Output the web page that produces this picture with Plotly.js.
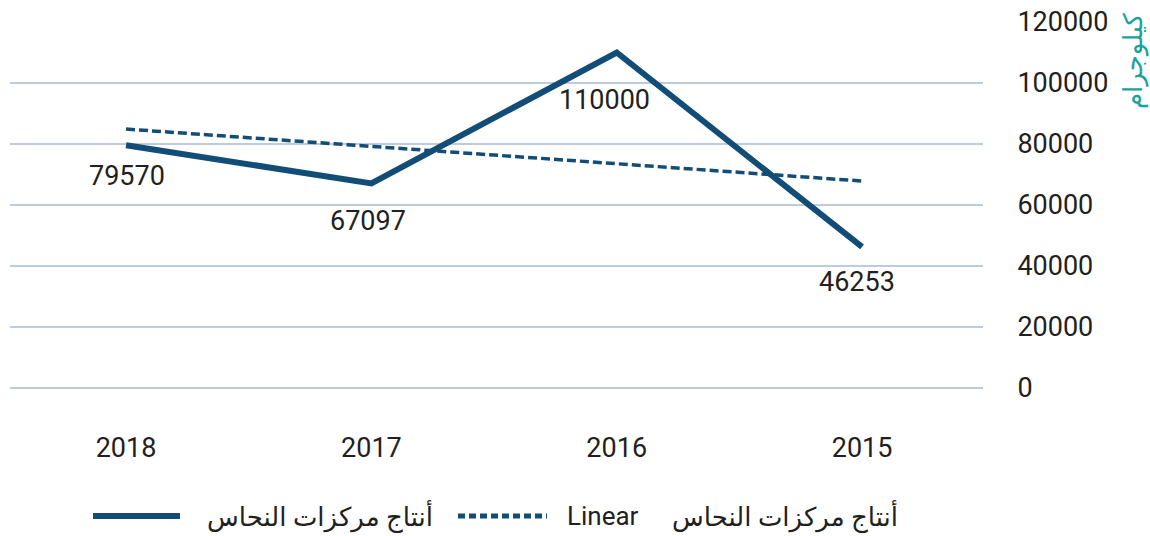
<!DOCTYPE html>
<html>
<head>
<meta charset="utf-8">
<script src="https://cdn.plot.ly/plotly-3.0.1.min.js"></script>
<style>
html,body{margin:0;padding:0;background:#fff;}
#chart{width:1150px;height:536px;}
</style>
</head>
<body>
<div id="chart"></div>
<script>
// ---- data ----
const years = ['2018', '2017', '2016', '2015'];
const production = [79570, 67097, 110000, 46253];
const trendValues = [84900, 79200, 73500, 67850];
const seriesName = 'أنتاج مركزات النحاس';
const trendPrefix = 'Linear';
const yTitle = 'كيلوجرام';
const yTicks = [0, 20000, 40000, 60000, 80000, 100000, 120000];

// ---- style ----
const lineColor = '#124d78';
const gridColor = '#bdcbdc';
const textColor = '#231f20';
const teal = '#1aa39b';
const FONT = 'Roboto, "DejaVu Sans", sans-serif';
const NUM_SIZE = 27;

const W = 1150, H = 536;
const margin = {l: 10, r: 167, t: 22, b: 148};
const plotW = W - margin.l - margin.r;
const plotH = H - margin.t - margin.b;
const px = x => (x - margin.l) / plotW;
const py = y => (H - margin.b - y) / plotH;

// label nudges (pixels) for the data labels
const labelShiftY = [-31, -38, -47, -35];
const labelShiftX = [1, -3, -12, -5];

const traces = [
  {
    x: years, y: trendValues, type: 'scatter', mode: 'lines',
    line: {color: lineColor, width: 3.5, dash: '9px,4px'},
    hoverinfo: 'skip', showlegend: false
  },
  {
    x: years, y: production, type: 'scatter', mode: 'lines',
    line: {color: lineColor, width: 6},
    showlegend: false, cliponaxis: false
  }
];

// data labels (category index used as x position on the category axis)
const annotations = years.map((yr, i) => ({
  x: i, y: production[i], xref: 'x', yref: 'y',
  text: String(production[i]), showarrow: false,
  xanchor: 'center', yanchor: 'middle',
  xshift: labelShiftX[i], yshift: labelShiftY[i],
  font: {family: FONT, size: NUM_SIZE, color: textColor}
}));

// y-axis title
annotations.push({
  xref: 'paper', yref: 'paper', x: px(1133), y: py(61),
  text: yTitle, textangle: -90, showarrow: false,
  xanchor: 'center', yanchor: 'middle',
  font: {family: FONT, size: 26, color: teal}
});

// legend (manual)
const shapes = [
  {type: 'line', xref: 'paper', yref: 'paper', x0: px(93), x1: px(180), y0: py(516), y1: py(516),
   line: {color: lineColor, width: 6}},
  {type: 'line', xref: 'paper', yref: 'paper', x0: px(458), x1: px(547), y0: py(516), y1: py(516),
   line: {color: lineColor, width: 5, dash: '7px,4px'}}
];
annotations.push(
  {xref: 'paper', yref: 'paper', x: px(320), y: py(516), text: seriesName, showarrow: false,
   xanchor: 'center', yanchor: 'middle', font: {family: FONT, size: 26, color: textColor}},
  {xref: 'paper', yref: 'paper', x: px(603), y: py(516), text: trendPrefix, showarrow: false,
   xanchor: 'center', yanchor: 'middle', font: {family: FONT, size: 26, color: textColor}},
  {xref: 'paper', yref: 'paper', x: px(785), y: py(516), text: seriesName, showarrow: false,
   xanchor: 'center', yanchor: 'middle', font: {family: FONT, size: 26, color: textColor}}
);

const layout = {
  width: W, height: H,
  margin: margin,
  paper_bgcolor: '#ffffff', plot_bgcolor: '#ffffff',
  font: {family: FONT, size: 26, color: textColor},
  showlegend: false,
  xaxis: {
    type: 'category', range: [-0.473, 3.493],
    showgrid: false, zeroline: false, showline: false,
    ticks: 'outside', ticklen: 36, tickcolor: 'rgba(0,0,0,0)',
    tickfont: {family: FONT, size: NUM_SIZE, color: textColor},
    fixedrange: true
  },
  yaxis: {
    side: 'right', range: [0, 120000],
    tickvals: yTicks, ticktext: yTicks.map(String),
    showgrid: true, gridcolor: gridColor, gridwidth: 1.5,
    zeroline: true, zerolinecolor: gridColor, zerolinewidth: 1.5,
    showline: false,
    ticks: 'outside', ticklen: 28, tickcolor: 'rgba(0,0,0,0)',
    tickfont: {family: FONT, size: NUM_SIZE, color: textColor},
    fixedrange: true
  },
  annotations: annotations,
  shapes: shapes
};

Plotly.newPlot('chart', traces, layout, {displayModeBar: false, staticPlot: true});
</script>
</body>
</html>
